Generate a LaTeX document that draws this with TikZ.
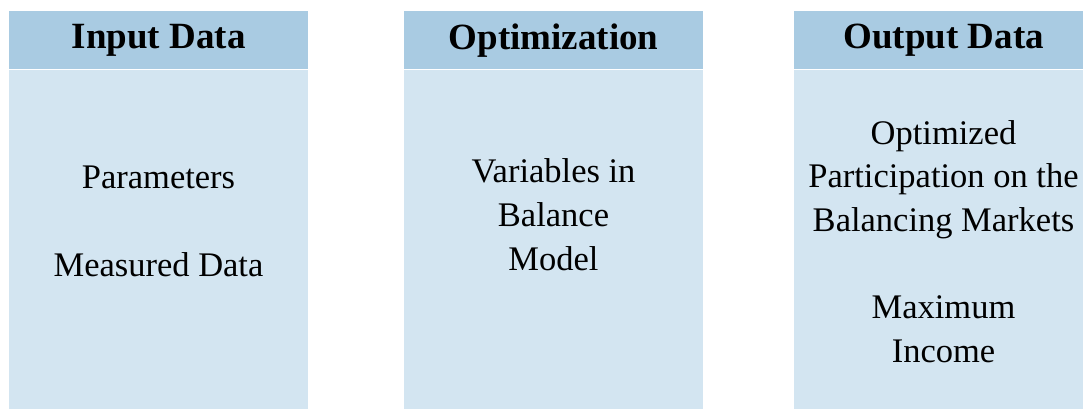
\documentclass[tikz,border=0pt]{standalone}
\usepackage{fontspec}
\setmainfont{Liberation Serif}
\usetikzlibrary{positioning}
\definecolor{headblue}{RGB}{169,203,226}
\definecolor{bodyblue}{RGB}{211,229,241}

\begin{document}
\begin{tikzpicture}[x=1pt,y=1pt,
	colhead/.style={fill=headblue,minimum width=299pt,minimum height=58pt,inner sep=0pt,
		anchor=north west,font=\fontsize{37}{44}\selectfont\bfseries},
	colbody/.style={fill=bodyblue,minimum width=299pt,minimum height=339pt,inner sep=0pt},
	celltext/.style={align=center,inner sep=0pt,anchor=base,font=\fontsize{34.5}{43.6}\selectfont}]
	\useasboundingbox (0,0) rectangle (1083,-408);
	\clip (0,0) rectangle (1083,-408);

	% the three columns
	\node (inhead)[colhead] at (9,-11){Input Data};
	\node (inbody)[colbody,below=0pt of inhead]{};
	\node (opthead)[colhead] at (404,-11){Optimization};
	\node (optbody)[colbody,below=0pt of opthead]{};
	\node (outhead)[colhead] at (794,-11){Output Data};
	\node (outbody)[colbody,below=0pt of outhead]{};

	% the texts (base = last line)
	\node (intext)[celltext] at (158.5,-276){Parameters\\ \\Measured Data};
	\node (opttext)[celltext] at (553.5,-270){Variables in\\Balance\\Model};
	\node (outtext)[celltext] at (943.5,-362){Optimized\\Participation on the\\Balancing Markets\\ \\Maximum\\Income};
\end{tikzpicture}
\end{document}
